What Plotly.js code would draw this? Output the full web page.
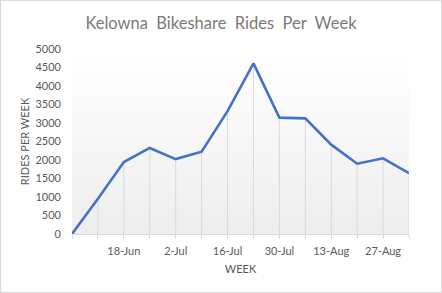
<!DOCTYPE html>
<html>
<head>
<meta charset="utf-8">
<script src="https://cdn.plot.ly/plotly-3.0.1.min.js"></script>
<style>
html,body{margin:0;padding:0;background:#fff;}
#chart{width:440px;height:291px;border:1px solid #d9d9d9;}
</style>
</head>
<body>
<div id="chart"></div>
<script>
const weeks = ['4-Jun','11-Jun','18-Jun','25-Jun','2-Jul','9-Jul','16-Jul','23-Jul','30-Jul','6-Aug','13-Aug','20-Aug','27-Aug','3-Sep'];
const rides = [0, 950, 1945, 2325, 2025, 2225, 3320, 4610, 3145, 3125, 2415, 1900, 2045, 1645];
const yMax = 5000;
const yTicks = [0,500,1000,1500,2000,2500,3000,3500,4000,4500,5000];

const tickText = weeks.map((w,i) => (i % 2 === 0 && i > 0) ? w : '');

const dropX = [], dropY = [];
weeks.forEach((w,i) => { dropX.push(w, w, null); dropY.push(0, rides[i], null); });

const first = weeks[0], last = weeks[weeks.length-1];

const traces = [
  {
    x: [first, last, last, first, first],
    y: [0, 0, yMax, yMax, 0],
    mode: 'none',
    fill: 'toself',
    fillgradient: {type: 'vertical', colorscale: [[0,'#eeeeee'],[1,'#ffffff']], start: 0, stop: yMax},
    showlegend: false, hoverinfo: 'skip'
  },
  {
    x: dropX, y: dropY, mode: 'lines',
    line: {color: '#d9d9d9', width: 1},
    connectgaps: false, showlegend: false, hoverinfo: 'skip'
  },
  {
    x: weeks, y: rides, mode: 'lines',
    line: {color: '#4472C4', width: 2.6},
    showlegend: false
  }
];

const fontFam = 'Lato, "Open Sans", sans-serif';
const layout = {
  width: 440, height: 291,
  margin: {l: 71, r: 32, t: 48, b: 58},
  paper_bgcolor: '#ffffff',
  plot_bgcolor: 'rgba(0,0,0,0)',
  font: {family: fontFam, color: '#595959', size: 11},
  title: {
    text: 'Kelowna  Bikeshare  Rides  Per  Week',
    x: 0.5, xanchor: 'center',
    y: 1 - 22/291, yref: 'container', yanchor: 'middle',
    font: {family: fontFam, size: 16.5, color: '#7a7a7a'}
  },
  xaxis: {
    type: 'category',
    categoryorder: 'array', categoryarray: weeks,
    range: [0, weeks.length - 1],
    tickmode: 'array', tickvals: weeks, ticktext: tickText,
    ticks: 'outside', ticklen: 4, tickcolor: '#d9d9d9',
    ticklabelstandoff: 3,
    showline: true, linecolor: '#d9d9d9', linewidth: 1,
    showgrid: false, zeroline: false,
    tickfont: {size: 11, color: '#595959'},
    title: {text: 'WEEK', font: {size: 11, color: '#595959'}, standoff: 9}
  },
  yaxis: {
    range: [0, yMax],
    tickmode: 'array', tickvals: yTicks,
    showgrid: false, zeroline: false, showline: false,
    ticks: '', ticklabelstandoff: 10,
    tickfont: {size: 11, color: '#595959'},
    title: {text: 'RIDES PER WEEK', font: {size: 11, color: '#595959'}, standoff: 3}
  },
  hovermode: false
};

Plotly.newPlot('chart', traces, layout, {staticPlot: true, displayModeBar: false});
</script>
</body>
</html>
